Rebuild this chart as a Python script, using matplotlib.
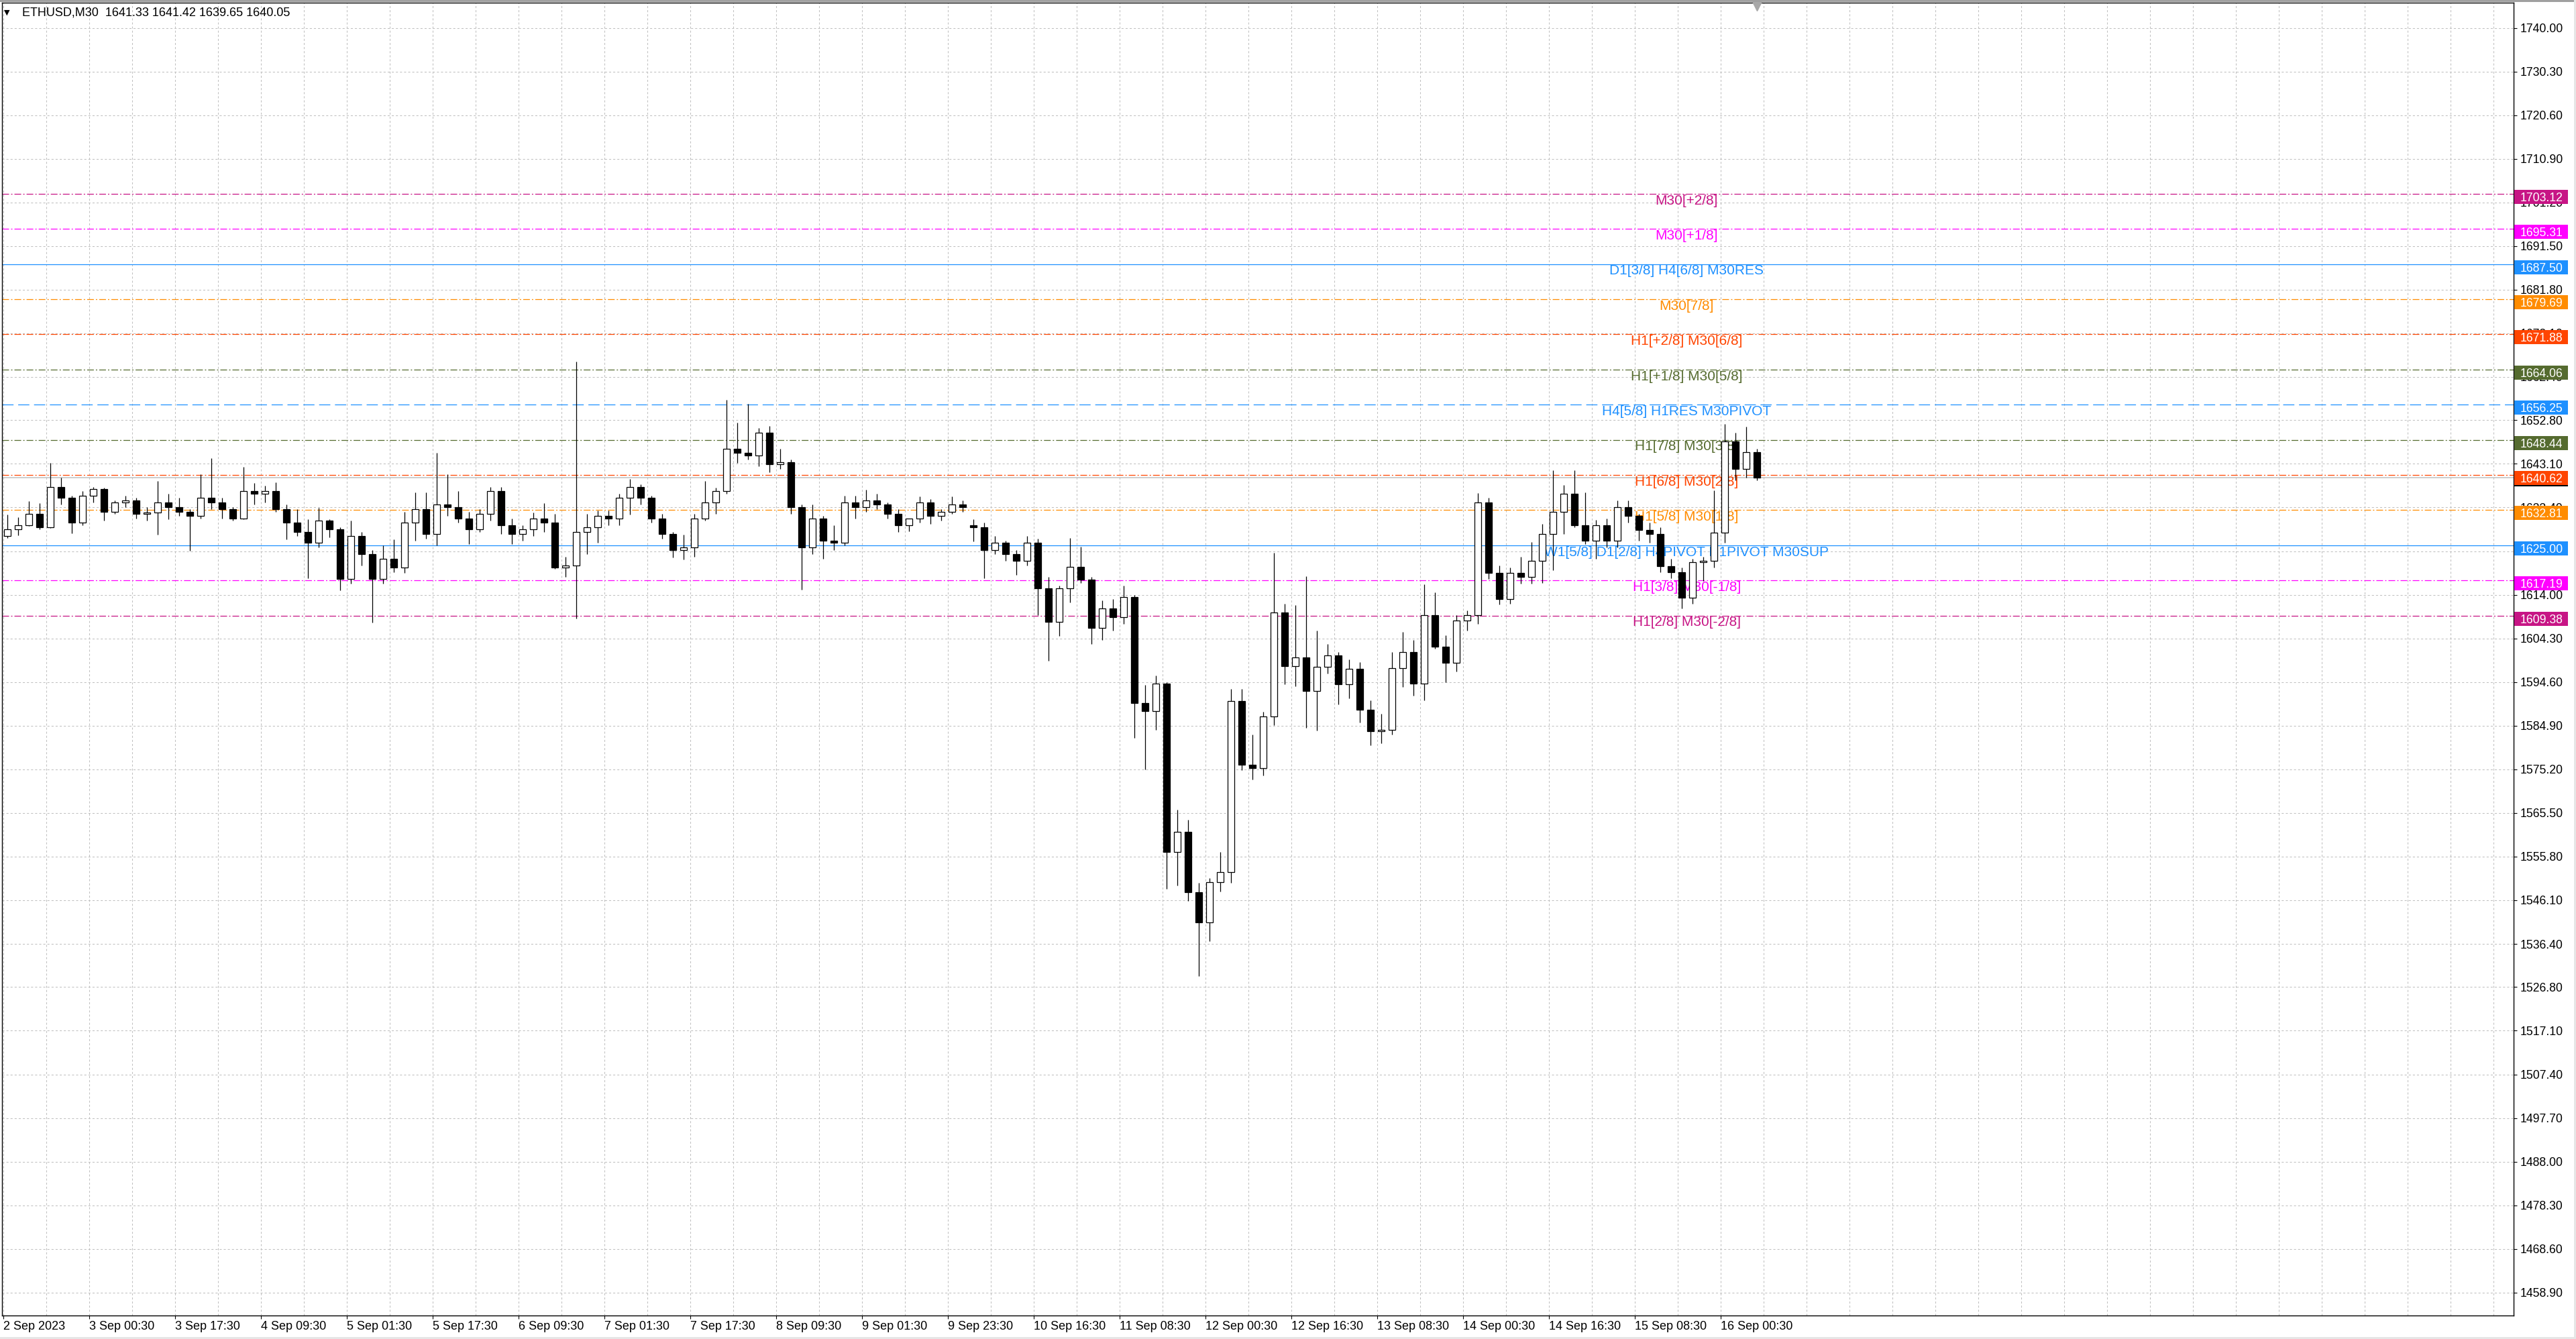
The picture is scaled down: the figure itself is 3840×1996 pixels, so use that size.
import matplotlib
matplotlib.use("Agg")
import numpy as np
import matplotlib.pyplot as plt
import matplotlib.transforms as mtransforms
from matplotlib.patches import Rectangle

plt.rcParams['font.family'] = ['Liberation Sans', 'DejaVu Sans']
plt.rcParams['lines.scale_dashes'] = False

# ETHUSD, candles (2 hours each = 4 M30 bars)
opens = [1627.0, 1628.5, 1629.5, 1632.0, 1629.0, 1638.0, 1635.5, 1630.0, 1636.0, 1637.5,
         1632.5, 1634.5, 1635.0, 1632.0, 1632.3, 1634.5, 1633.5, 1632.5, 1631.5, 1635.5,
         1634.5, 1633.0, 1631.0, 1637.0, 1636.5, 1637.0, 1633.0, 1630.0, 1628.0, 1625.5,
         1630.5, 1628.5, 1617.5, 1627.0, 1623.0, 1617.5, 1622.0, 1620.0, 1630.0, 1633.0,
         1627.5, 1634.0, 1633.5, 1631.0, 1628.5, 1632.0, 1637.0, 1629.5, 1627.5, 1628.5,
         1631.0, 1630.0, 1620.0, 1620.5, 1628.0, 1629.0, 1631.5, 1631.0, 1635.5, 1638.0,
         1635.5, 1631.0, 1627.5, 1624.0, 1624.5, 1631.0, 1634.5, 1637.0, 1646.5, 1645.5,
         1645.0, 1650.0, 1643.0, 1643.5, 1633.5, 1624.5, 1631.0, 1626.0, 1625.5, 1634.5,
         1633.5, 1635.0, 1634.0, 1632.0, 1629.5, 1631.0, 1634.5, 1631.5, 1632.5, 1634.0,
         1629.5, 1629.0, 1624.0, 1625.5, 1623.0, 1621.5, 1625.5, 1615.5, 1608.0, 1615.4,
         1620.2, 1617.4, 1606.6, 1611.0, 1609.0, 1613.5, 1590.0, 1588.2, 1594.2, 1556.8,
         1561.3, 1547.9, 1541.2, 1550.1, 1552.4, 1590.4, 1576.2, 1575.5, 1587.0, 1610.0,
         1598.2, 1600.0, 1592.6, 1598.0, 1600.5, 1594.1, 1597.5, 1588.5, 1583.6, 1584.0,
         1597.7, 1601.3, 1594.2, 1609.5, 1602.4, 1598.9, 1608.3, 1609.5, 1634.5, 1618.9,
         1613.0, 1618.9, 1618.0, 1621.6, 1627.5, 1632.5, 1636.5, 1629.5, 1626.0, 1629.5,
         1626.0, 1633.4, 1631.5, 1628.4, 1627.5, 1620.4, 1619.0, 1613.3, 1621.3, 1621.5,
         1627.8, 1648.1, 1641.9, 1645.7]
highs = [1631.9, 1631.3, 1634.8, 1634.3, 1643.3, 1640.0, 1636.0, 1637.0, 1638.0, 1637.8,
         1635.0, 1636.0, 1635.5, 1633.5, 1639.3, 1636.5, 1635.5, 1633.0, 1640.8, 1644.4,
         1635.5, 1633.5, 1642.4, 1638.8, 1638.3, 1639.0, 1634.0, 1633.0, 1630.8, 1633.3,
         1630.8, 1629.0, 1630.5, 1628.0, 1624.0, 1625.0, 1626.3, 1632.5, 1636.8, 1636.8,
         1645.5, 1640.8, 1637.0, 1632.5, 1633.0, 1638.0, 1638.0, 1631.0, 1629.5, 1632.3,
         1634.4, 1632.0, 1622.5, 1665.9, 1632.0, 1632.8, 1632.8, 1636.5, 1639.8, 1638.5,
         1636.0, 1632.0, 1628.0, 1627.3, 1632.0, 1639.3, 1637.8, 1657.4, 1652.2, 1656.5,
         1651.0, 1651.5, 1646.5, 1644.0, 1634.0, 1634.0, 1631.5, 1629.5, 1636.0, 1636.0,
         1637.3, 1636.5, 1634.5, 1633.0, 1631.0, 1635.8, 1635.3, 1633.0, 1635.8, 1635.0,
         1630.8, 1630.0, 1627.0, 1626.0, 1624.0, 1627.0, 1626.5, 1618.0, 1616.0, 1626.6,
         1624.7, 1618.0, 1612.8, 1613.0, 1616.1, 1614.0, 1594.0, 1596.0, 1594.5, 1566.2,
         1564.0, 1550.0, 1551.0, 1556.8, 1593.0, 1593.0, 1583.0, 1588.0, 1623.4, 1612.0,
         1611.7, 1618.1, 1606.0, 1603.1, 1601.3, 1599.7, 1599.0, 1590.5, 1587.5, 1601.3,
         1605.7, 1604.0, 1616.3, 1614.5, 1605.0, 1609.5, 1610.5, 1636.6, 1635.5, 1620.5,
         1620.0, 1622.5, 1625.7, 1629.8, 1641.6, 1638.4, 1641.6, 1636.8, 1630.7, 1631.0,
         1635.0, 1635.0, 1632.0, 1630.0, 1629.0, 1622.0, 1620.0, 1622.0, 1622.5, 1637.2,
         1651.9, 1650.0, 1651.3, 1646.5]
lows = [1626.6, 1627.2, 1629.3, 1628.6, 1628.8, 1634.0, 1627.6, 1629.5, 1634.5, 1630.5,
        1632.0, 1633.5, 1631.0, 1630.5, 1627.3, 1630.8, 1631.5, 1623.8, 1631.0, 1633.0,
        1631.0, 1630.5, 1630.8, 1634.0, 1634.5, 1632.5, 1626.3, 1627.0, 1617.6, 1624.5,
        1626.8, 1615.0, 1616.5, 1620.5, 1607.9, 1616.5, 1619.0, 1618.8, 1626.0, 1626.5,
        1625.0, 1631.5, 1630.0, 1625.3, 1628.0, 1630.5, 1627.5, 1625.3, 1626.0, 1627.0,
        1628.0, 1619.7, 1617.9, 1608.7, 1623.0, 1625.5, 1629.5, 1629.5, 1631.8, 1634.0,
        1630.0, 1626.5, 1622.3, 1621.8, 1622.5, 1630.5, 1632.0, 1636.5, 1643.3, 1644.0,
        1642.5, 1641.3, 1642.0, 1632.0, 1615.1, 1623.0, 1622.0, 1624.0, 1625.0, 1631.0,
        1632.5, 1633.0, 1631.0, 1628.0, 1628.1, 1630.0, 1629.8, 1630.5, 1632.0, 1632.5,
        1625.8, 1617.6, 1623.0, 1621.5, 1618.4, 1620.5, 1609.4, 1599.3, 1604.8, 1612.3,
        1616.6, 1603.1, 1604.0, 1606.0, 1607.5, 1582.2, 1575.1, 1584.0, 1548.6, 1549.4,
        1546.0, 1529.2, 1537.0, 1548.0, 1550.0, 1575.0, 1572.9, 1573.8, 1585.0, 1594.1,
        1593.6, 1584.4, 1583.8, 1596.5, 1589.6, 1591.0, 1585.6, 1580.6, 1581.0, 1583.0,
        1593.5, 1591.5, 1590.5, 1602.0, 1594.5, 1597.0, 1606.0, 1607.5, 1617.5, 1611.9,
        1612.0, 1616.5, 1616.5, 1616.6, 1619.5, 1627.5, 1629.0, 1625.2, 1622.0, 1624.5,
        1624.5, 1630.0, 1626.0, 1625.5, 1619.0, 1617.7, 1611.0, 1612.0, 1617.0, 1620.0,
        1625.5, 1639.5, 1640.0, 1639.5]
closes = [1628.5, 1629.5, 1632.0, 1629.0, 1638.0, 1635.5, 1630.0, 1636.0, 1637.5, 1632.5,
          1634.5, 1635.0, 1632.0, 1632.3, 1634.5, 1633.5, 1632.5, 1631.5, 1635.5, 1634.5,
          1633.0, 1631.0, 1637.0, 1636.5, 1637.0, 1633.0, 1630.0, 1628.0, 1625.5, 1630.5,
          1628.5, 1617.5, 1627.0, 1623.0, 1617.5, 1622.0, 1620.0, 1630.0, 1633.0, 1627.5,
          1634.0, 1633.5, 1631.0, 1628.5, 1632.0, 1637.0, 1629.5, 1627.5, 1628.5, 1631.0,
          1630.0, 1620.0, 1620.5, 1628.0, 1629.0, 1631.5, 1631.0, 1635.5, 1638.0, 1635.5,
          1631.0, 1627.5, 1624.0, 1624.5, 1631.0, 1634.5, 1637.0, 1646.5, 1645.5, 1645.0,
          1650.0, 1643.0, 1643.5, 1633.5, 1624.5, 1631.0, 1626.0, 1625.5, 1634.5, 1633.5,
          1635.0, 1634.0, 1632.0, 1629.5, 1631.0, 1634.5, 1631.5, 1632.5, 1634.0, 1633.5,
          1629.0, 1624.0, 1625.5, 1623.0, 1621.5, 1625.5, 1615.5, 1608.0, 1615.4, 1620.2,
          1617.4, 1606.6, 1611.0, 1609.0, 1613.5, 1590.0, 1588.2, 1594.2, 1556.8, 1561.3,
          1547.9, 1541.2, 1550.1, 1552.4, 1590.4, 1576.2, 1575.5, 1587.0, 1610.0, 1598.2,
          1600.0, 1592.6, 1598.0, 1600.5, 1594.1, 1597.5, 1588.5, 1583.6, 1584.0, 1597.7,
          1601.3, 1594.2, 1609.5, 1602.4, 1598.9, 1608.3, 1609.5, 1634.5, 1618.9, 1613.0,
          1618.9, 1618.0, 1621.6, 1627.5, 1632.5, 1636.5, 1629.5, 1626.0, 1629.5, 1626.0,
          1633.4, 1631.5, 1628.4, 1627.5, 1620.4, 1619.0, 1613.3, 1621.3, 1621.5, 1627.8,
          1648.1, 1641.9, 1645.7, 1640.05]

header_ohlc = [1641.33, 1641.42, 1639.65, 1640.05]

# Murrey math levels
levels = [1703.12, 1695.31, 1687.50, 1679.69, 1671.88, 1664.06, 1656.25,
          1648.44, 1640.62, 1632.81, 1625.00, 1617.19, 1609.38]
level_names = ["M30[+2/8]", "M30[+1/8]", "D1[3/8] H4[6/8] M30RES", "M30[7/8]",
               "H1[+2/8] M30[6/8]", "H1[+1/8] M30[5/8]", "H4[5/8] H1RES M30PIVOT",
               "H1[7/8] M30[3/8]", "H1[6/8] M30[2/8]", "H1[5/8] M30[1/8]",
               "W1[5/8] D1[2/8] H4PIVOT H1PIVOT M30SUP", "H1[3/8] M30[-1/8]",
               "H1[2/8] M30[-2/8]"]
level_colors = ["#C71585", "#FF00FF", "#1E90FF", "#FF8C00", "#FF4500", "#556B2F", "#1E90FF",
                "#556B2F", "#FF4500", "#FF8C00", "#1E90FF", "#FF00FF", "#C71585"]
dashdot = (0, (7.2, 2.2, 1.4, 2.2))
level_styles = [dashdot, dashdot, "-", dashdot, dashdot, dashdot, (0, (12, 5)),
                dashdot, dashdot, dashdot, "-", dashdot, dashdot]

price_ticks = [1458.90, 1468.60, 1478.30, 1488.00, 1497.70, 1507.40, 1517.10, 1526.80,
               1536.40, 1546.10, 1555.80, 1565.50, 1575.20, 1584.90, 1594.60, 1604.30,
               1614.00, 1623.70, 1633.40, 1643.10, 1652.80, 1662.40, 1672.10, 1681.80,
               1691.50, 1701.20, 1710.90, 1720.60, 1730.30, 1740.00]
time_labels = ["2 Sep 2023", "3 Sep 00:30", "3 Sep 17:30", "4 Sep 09:30", "5 Sep 01:30",
               "5 Sep 17:30", "6 Sep 09:30", "7 Sep 01:30", "7 Sep 17:30", "8 Sep 09:30",
               "9 Sep 01:30", "9 Sep 23:30", "10 Sep 16:30", "11 Sep 08:30", "12 Sep 00:30",
               "12 Sep 16:30", "13 Sep 08:30", "14 Sep 00:30", "14 Sep 16:30", "15 Sep 08:30",
               "16 Sep 00:30"]

# figure geometry (pixels)
W, H = 3840, 1996
px_left, px_right, px_top, px_bottom = 3, 3746.7, 4, 1961
fig = plt.figure(figsize=(W / 100, H / 100), dpi=100)
ax = fig.add_axes([px_left / W, (H - px_bottom) / H,
                   (px_right - px_left) / W, (px_bottom - px_top) / H])
ax_w = px_right - px_left
ax_h = px_bottom - px_top

ymin, ymax = 1453.8, 1745.6
ax.set_xlim(-0.5, 935.4)
ax.set_ylim(ymin, ymax)
ppu = ax_h / (ymax - ymin)

# 4 M30 bars per candle
bars_per = 4
xs = np.arange(len(closes)) * bars_per + 1.5
o = np.array(opens); c = np.array(closes); hi = np.array(highs); lo = np.array(lows)

# grid + axes
ax.set_xticks(np.arange(len(time_labels)) * 32)
ax.set_xticks(np.arange(0, 936, 16), minor=True)
ax.set_xticklabels(time_labels, ha="left")
ax.set_yticks(price_ticks)
ax.set_yticklabels(["%.2f" % t for t in price_ticks])
ax.yaxis.tick_right()
ax.grid(True, which="both", axis="x", color="#c0c0c0", linestyle=(0, (2.2, 2.2)), linewidth=0.75)
ax.grid(True, which="major", axis="y", color="#c0c0c0", linestyle=(0, (2.2, 2.2)), linewidth=0.75)
ax.set_axisbelow(True)
ax.tick_params(axis="x", which="major", length=3.6, width=0.8, pad=2.5, labelsize=13)
ax.tick_params(axis="x", which="minor", length=0)
ax.tick_params(axis="y", length=3.6, width=0.8, pad=3.5, labelsize=12.7)
for s in ax.spines.values():
    s.set_linewidth(1.0)
    s.set_color("black")

# bid line
ax.axhline(closes[-1], color="#c0c0c0", lw=1.1, zorder=1.5)

# levels
for lv, nm, col, ls in zip(levels, level_names, level_colors, level_styles):
    ax.axhline(lv, color=col, linestyle=ls, lw=0.9, zorder=2)
    ax.text(627.3, lv, nm, color=col, ha="center", va="top", fontsize=15, zorder=3,
            transform=mtransforms.offset_copy(ax.transData, fig=fig, y=-0.5, units="points"))

# candles
ax.vlines(xs, lo, hi, color="black", lw=0.9, zorder=4)
body_bottom = np.minimum(o, c)
body_h = np.maximum(np.abs(c - o), 0.15)
fill = np.where(c >= o, "white", "black")
ax.bar(xs, body_h, bottom=body_bottom, width=2.4, color=fill, edgecolor="black",
       linewidth=0.9, zorder=5)

# price boxes on the right axis (drawn a few pixels below their line, like MT4)
bt = mtransforms.blended_transform_factory(ax.transAxes, ax.transData)
box_x = 1 + 1.5 / ax_w
box_w = 80 / ax_w
box_h = 21 / ppu
shift = 4.5 / ppu
ax.add_patch(Rectangle((box_x, closes[-1] - shift - box_h / 2 + 0.3), box_w, box_h, transform=bt,
                       facecolor="black", edgecolor="none", clip_on=False, zorder=6))
for lv, col in zip(levels, level_colors):
    ax.add_patch(Rectangle((box_x, lv - shift - box_h / 2), box_w, box_h, transform=bt,
                           facecolor=col, edgecolor="none", clip_on=False, zorder=7))
    ax.text(1 + 9.5 / ax_w, lv - shift, "%.2f" % lv, transform=bt, color="white", fontsize=12.7,
            ha="left", va="center_baseline", clip_on=False, zorder=8)

# chart shift marker
ax.plot([xs[-1]], [1 - 5 / ax_h],
        transform=mtransforms.blended_transform_factory(ax.transData, ax.transAxes),
        marker="v", markersize=10, color="#a8a8a8", clip_on=False, zorder=9)

# header
fig.text(10 / W, 1 - 19 / H, "\u25BC", fontsize=8, family="DejaVu Sans", ha="center", va="center")
fig.text(33 / W, 1 - 19 / H, "ETHUSD,M30  " + " ".join("%.2f" % v for v in header_ohlc),
         fontsize=13, ha="left", va="center")

# window borders
fig.add_artist(Rectangle((0, 1 - 3 / H), 1, 3 / H, transform=fig.transFigure,
                         facecolor="#a0a0a0", edgecolor="none"))
fig.add_artist(Rectangle((1 - 3 / W, 0), 3 / W, 1, transform=fig.transFigure,
                         facecolor="#e6e6e6", edgecolor="none"))
fig.add_artist(Rectangle((0, 0), 1, 3 / H, transform=fig.transFigure,
                         facecolor="#e6e6e6", edgecolor="none"))

fig.savefig("out.png", dpi=100)
